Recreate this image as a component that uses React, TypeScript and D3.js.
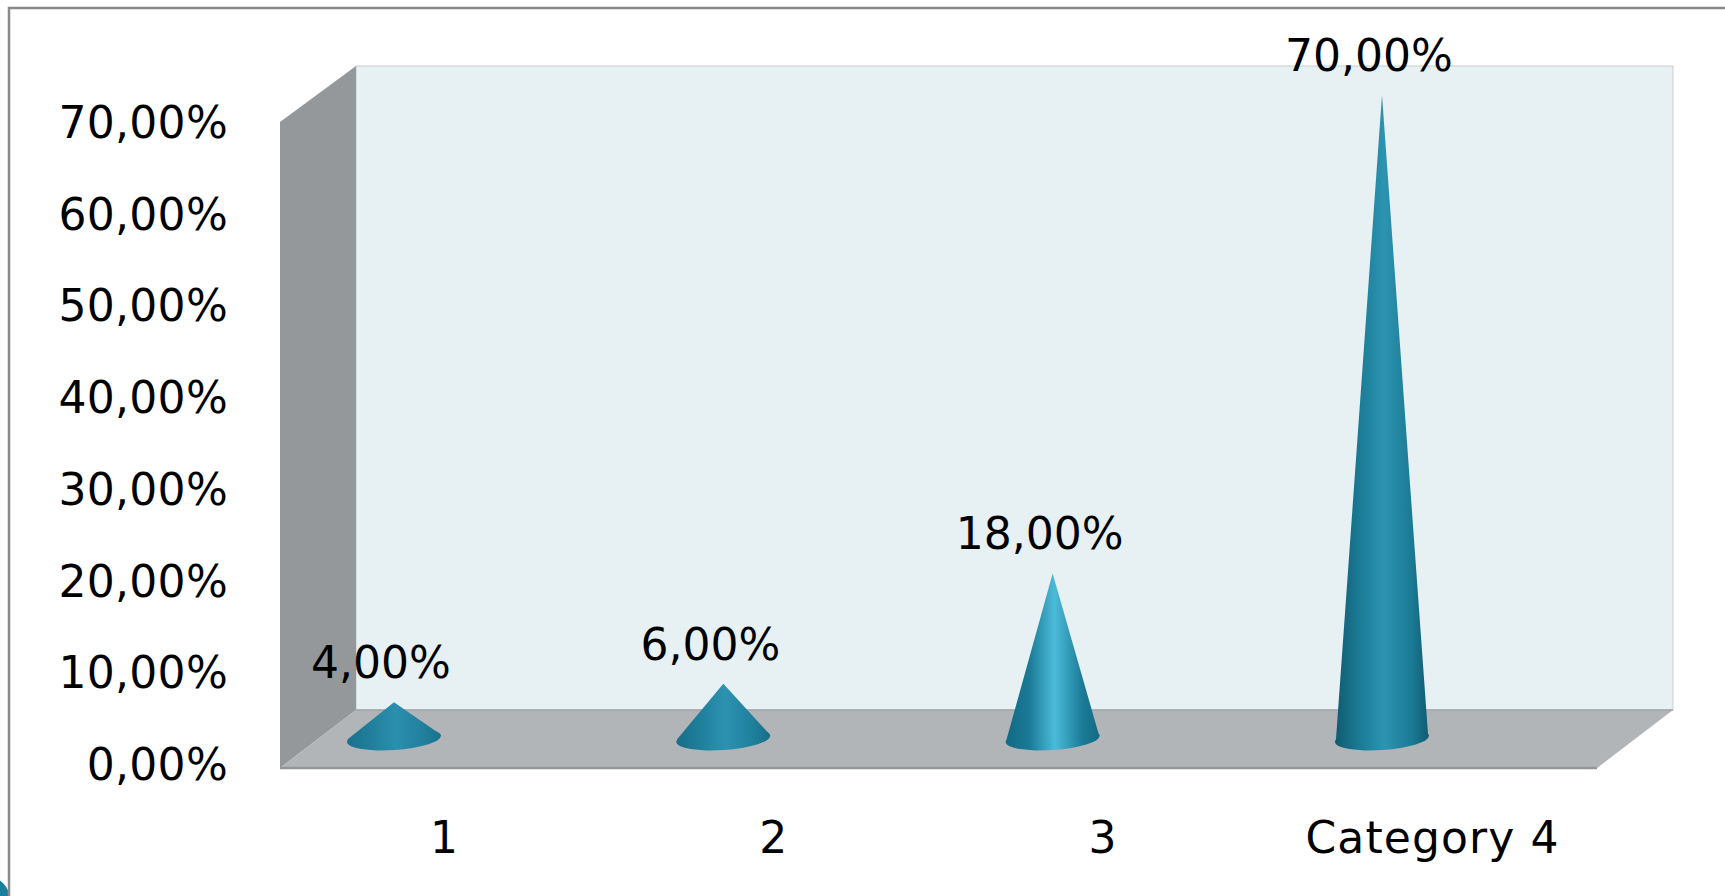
import React, { useEffect, useRef } from 'react';
import * as d3 from 'd3';

const categories = ['1', '2', '3', 'Category 4'];
const values = [4, 6, 18, 70];
const valueLabels = ['4,00%', '6,00%', '18,00%', '70,00%'];
const yTicks = [0, 10, 20, 30, 40, 50, 60, 70];
const yTickLabels = ['0,00%', '10,00%', '20,00%', '30,00%', '40,00%', '50,00%', '60,00%', '70,00%'];
const coneHighlights = ['#2b8fae', '#2c92b1', '#4bbbd9', '#2c94b1'];
const coneSides = ['#217f9c', '#1f7f9b', '#1b7a96', '#1a7a94'];
const coneEdges = ['#1a718c', '#176e88', '#126a84', '#115a70'];

const width = 1725;
const height = 896;
const font = '"DejaVu Sans", Verdana, sans-serif';

const App: React.FC = () => {
  const svgRef = useRef<SVGSVGElement>(null);

  useEffect(() => {
    if (!svgRef.current) return;
    const svg = d3.select(svgRef.current);
    svg.selectAll('*').remove();

    // 3D box corners
    const frontLeft = 280;
    const backLeft = 356;
    const frontRight = 1597;
    const backRight = 1673;
    const backTop = 66;
    const frontTop = 122;
    const backFloor = 710;
    const frontFloor = 768;

    const y = d3.scaleLinear().domain([0, 70]).range([739, 95]);
    const yLabel = d3.scaleLinear().domain([0, 70]).range([780, 138]);
    const x = d3.scalePoint<string>().domain(categories).range([394, 1382]);

    const defs = svg.append('defs');
    categories.forEach((c, i) => {
      const grad = defs.append('linearGradient').attr('id', `cone-${i}`);
      grad.append('stop').attr('offset', '0%').attr('stop-color', coneEdges[i]);
      grad.append('stop').attr('offset', '25%').attr('stop-color', coneSides[i]);
      grad.append('stop').attr('offset', '52%').attr('stop-color', coneHighlights[i]);
      grad.append('stop').attr('offset', '82%').attr('stop-color', coneSides[i]);
      grad.append('stop').attr('offset', '100%').attr('stop-color', coneEdges[i]);
    });

    // frame
    svg.append('circle').attr('cx', -14).attr('cy', 900).attr('r', 24).attr('fill', '#1b7f9c');
    svg.append('path')
      .attr('d', `M${width},8 L9,8 L9,${height}`)
      .attr('fill', 'none')
      .attr('stroke', '#8a8a8a')
      .attr('stroke-width', 2.5);

    // back wall
    svg.append('rect')
      .attr('x', backLeft)
      .attr('y', backTop)
      .attr('width', backRight - backLeft)
      .attr('height', backFloor - backTop)
      .attr('fill', '#e7f0f3')
      .attr('stroke', '#c9cdcf')
      .attr('stroke-width', 1);

    // left wall
    svg.append('polygon')
      .attr('points', `${frontLeft},${frontTop} ${backLeft},${backTop} ${backLeft},${backFloor} ${frontLeft},${frontFloor}`)
      .attr('fill', '#94989a');

    // floor
    svg.append('polygon')
      .attr('points', `${frontLeft},${frontFloor} ${frontRight},${frontFloor} ${backRight},${backFloor} ${backLeft},${backFloor}`)
      .attr('fill', '#b1b5b8');
    svg.append('line')
      .attr('x1', backLeft).attr('x2', backRight)
      .attr('y1', backFloor).attr('y2', backFloor)
      .attr('stroke', '#a0a4a6').attr('stroke-width', 1.5);
    svg.append('line')
      .attr('x1', frontLeft).attr('x2', frontRight)
      .attr('y1', frontFloor).attr('y2', frontFloor)
      .attr('stroke', '#939699').attr('stroke-width', 2.5);

    // cones: base ellipse plus a body running to its upper edge, so the corners stay round
    const rx = 47;
    const ry = 11;
    const tilt = 3;
    values.forEach((v, i) => {
      const cx = x(categories[i]) || 0;
      const base = y(0);
      svg.append('ellipse')
        .attr('cx', cx)
        .attr('cy', base)
        .attr('rx', rx)
        .attr('ry', ry)
        .attr('transform', `rotate(-4 ${cx} ${base})`)
        .attr('fill', `url(#cone-${i})`);
      svg.append('path')
        .attr('d', `M${cx},${y(v)} L${cx + rx - 1},${base - tilt - 2} L${cx + rx},${base - tilt} L${cx - rx},${base + tilt} L${cx - rx + 1},${base + tilt - 3} Z`)
        .attr('fill', `url(#cone-${i})`);

      svg.append('text')
        .attr('x', cx - 13)
        .attr('y', y(v) - 24)
        .attr('text-anchor', 'middle')
        .attr('font-family', font)
        .attr('font-size', 44)
        .attr('fill', '#000')
        .text(valueLabels[i]);
    });

    // y axis labels
    yTicks.forEach((t, i) => {
      svg.append('text')
        .attr('x', 228)
        .attr('y', yLabel(t))
        .attr('text-anchor', 'end')
        .attr('font-family', font)
        .attr('font-size', 44)
        .attr('letter-spacing', 0.3)
        .attr('fill', '#000')
        .text(yTickLabels[i]);
    });

    // category labels
    categories.forEach(c => {
      svg.append('text')
        .attr('x', (x(c) || 0) + 50.5)
        .attr('y', 853)
        .attr('text-anchor', 'middle')
        .attr('font-family', font)
        .attr('font-size', 44)
        .attr('letter-spacing', 1.1)
        .attr('fill', '#000')
        .text(c);
    });
  }, []);

  return (
    <svg
      ref={svgRef}
      width={width}
      height={height}
      style={{ position: 'absolute', left: 0, top: 0, background: '#fff' }}
    />
  );
};

export default App;
